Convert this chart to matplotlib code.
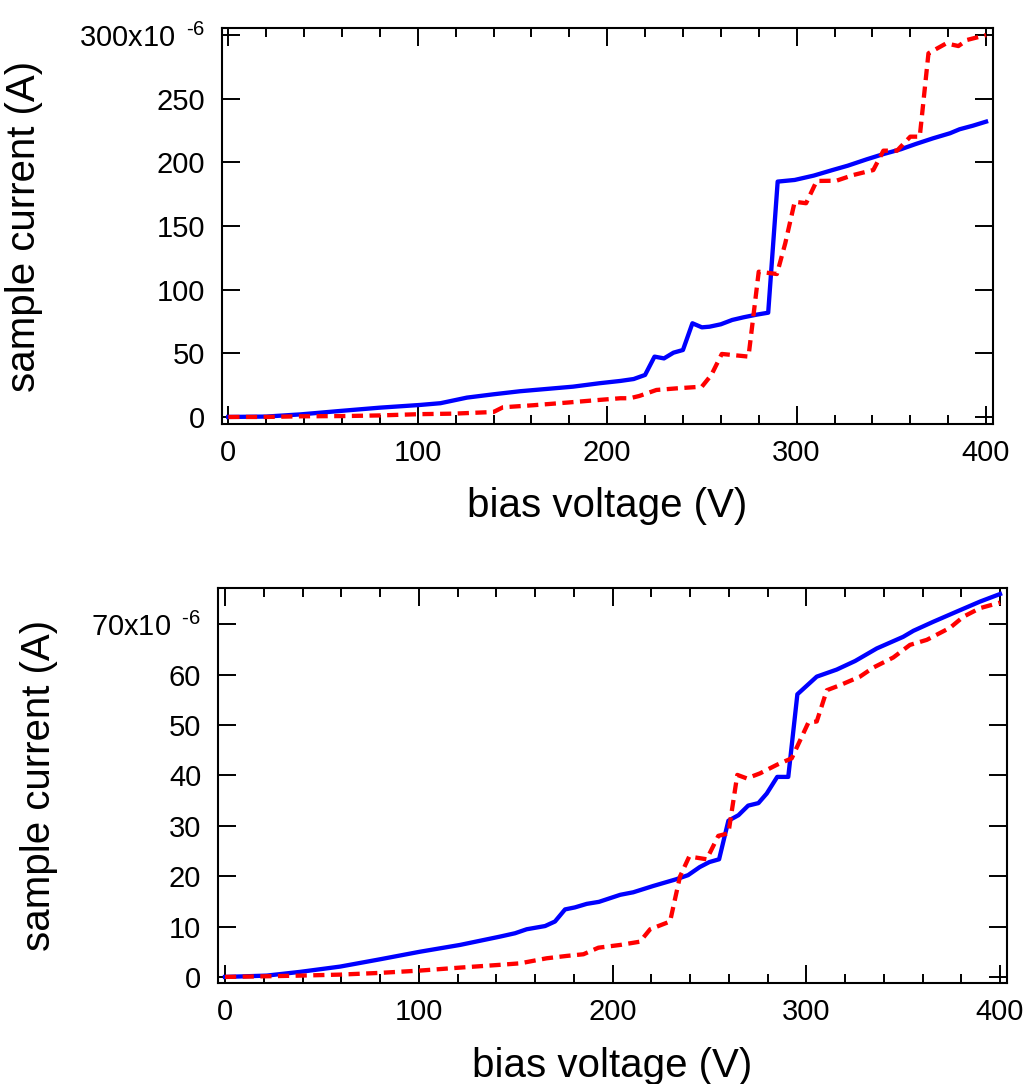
import numpy as np
import matplotlib
matplotlib.use('Agg')
import matplotlib.pyplot as plt
from matplotlib.ticker import MultipleLocator, FuncFormatter

plt.rcParams['font.family'] = ['Liberation Sans', 'DejaVu Sans']
plt.rcParams['mathtext.fontset'] = 'custom'
plt.rcParams['mathtext.rm'] = 'Liberation Sans'
plt.rcParams['mathtext.it'] = 'Liberation Sans'
plt.rcParams['mathtext.default'] = 'regular'

# top panel: current in units of 1e-6 A
top_blue_v = [0, 20, 38, 59, 80, 101, 112, 126, 140, 154, 168, 182, 196, 207, 214, 220, 225,
              230, 235, 240, 245, 250, 254, 260, 266, 272, 279, 285, 290, 299, 309, 319, 327,
              337, 346, 355, 363, 372, 381, 386, 393, 400]
top_blue_i = [0, 0.3, 2, 4.7, 7.3, 9.4, 10.8, 15.2, 17.8, 20.2, 22, 23.8, 26.5, 28.3, 29.8, 33, 47.4,
              46, 50.5, 52.6, 73.6, 70.4, 70.9, 72.8, 76.2, 78.3, 80.4, 81.9, 184.9, 186.2, 189.6,
              194, 197.4, 202.4, 206.6, 210.3, 214.5, 218.9, 222.9, 226, 228.8, 232]

top_red_v = [0, 20, 38, 61, 80, 101, 119, 140, 145, 161, 179, 196, 207, 212, 217, 226, 237, 250,
             255, 260.5, 274.6, 280, 289.6, 294, 299, 305, 310.6, 321, 330, 340.5, 345.8, 353,
             360, 365, 369.6, 379, 385.4, 390, 400]
top_red_i = [0, 0, 0.5, 0.7, 1.2, 2.2, 2.6, 3.9, 7.6, 9.2, 11.3, 13.4, 14.7, 14.7, 16.5, 21.2, 22.5,
             23.8, 33, 49.5, 47.4, 114.1, 112.3, 136.4, 169.1, 167.9, 185.4, 185.6, 190.1, 194,
             209.2, 209.2, 220.2, 220.2, 285.7, 293.5, 291.4, 296.2, 300]

# bottom panel
bot_blue_v = [0, 21.5, 38.7, 59.4, 80, 100.6, 121.3, 141.9, 149.7, 155.7, 165.2, 170.3, 175.5,
              180.6, 186.7, 193, 204, 210.7, 221, 233, 239, 245, 250, 255, 259.8, 265, 270, 275.3,
              279.6, 285, 290.7, 295.4, 305.4, 315.7, 325.2, 336.4, 350, 355.3, 365.6, 377.6,
              389.7, 400]
bot_blue_i = [0, 0.26, 1.0, 2.05, 3.5, 5.0, 6.35, 8.0, 8.67, 9.46, 10.1, 11.0, 13.4, 13.8, 14.5,
              14.9, 16.3, 16.8, 18.05, 19.4, 20.2, 21.8, 22.8, 23.35, 31.0, 32.1, 34.0, 34.5, 36.4,
              39.7, 39.7, 56.1, 59.6, 61.0, 62.7, 65.2, 67.5, 68.7, 70.5, 72.5, 74.5, 76]

bot_red_v = [0, 21.5, 38.7, 59.4, 80, 100.6, 121.3, 141.9, 152.3, 166, 176.4, 185, 192.7, 204,
             214.2, 219.4, 229.7, 234.8, 239.6, 248.6, 254.6, 259.8, 264.4, 269.3, 276.1, 284.8,
             292.5, 301.1, 305.4, 310.6, 317.4, 327.7, 334.6, 344.9, 353.5, 362.2, 374.2, 381.1,
             389.7, 400]
bot_red_i = [0, 0.13, 0.26, 0.46, 0.8, 1.26, 1.85, 2.4, 2.7, 3.7, 4.17, 4.5, 5.8, 6.35, 7.0, 9.46,
             11.0, 19.9, 23.9, 23.35, 28.0, 28.5, 40.1, 39.4, 40.4, 42.1, 43.4, 50.5, 50.7, 56.9,
             57.9, 59.6, 61.4, 63.4, 65.9, 66.9, 69.3, 71.5, 73.2, 74.3]

fig = plt.figure(figsize=(10.26, 10.84), dpi=100)
ax1 = fig.add_axes([0.2164, 0.6089, 0.7515, 0.3653])
ax2 = fig.add_axes([0.2125, 0.0932, 0.769, 0.3644])


def style(ax, ymax, ystep):
    ax.xaxis.set_major_locator(MultipleLocator(100))
    ax.xaxis.set_minor_locator(MultipleLocator(20))
    ax.yaxis.set_major_locator(MultipleLocator(ystep))
    ax.yaxis.set_minor_locator(plt.NullLocator())
    ax.tick_params(which='both', direction='in', top=True, right=True, width=1.4,
                   labelsize=21, color='black')
    ax.tick_params(which='major', length=13)
    ax.tick_params(which='minor', length=6.5)
    ax.tick_params(axis='y', pad=12)
    ax.tick_params(axis='x', pad=10.5)

    def fmt(val, pos):
        if abs(val - ymax) < 1e-9:
            return r'%dx10$^{\ \ \text{-}6}$' % ymax
        return '%d' % val
    ax.yaxis.set_major_formatter(FuncFormatter(fmt))
    for s in ax.spines.values():
        s.set_linewidth(1.5)
        s.set_color('black')
    ax.set_xlabel('bias voltage (V)', fontsize=29)
    ax.set_ylabel('sample current (A)', fontsize=29)


ax1.plot(top_blue_v, top_blue_i, color='#0000ff', lw=3.1, solid_joinstyle='round')
ax1.plot(top_red_v, top_red_i, color='#ff0000', lw=3.1, dashes=(2.6, 1.5))
ax1.set_xlim(-3.3, 403.7)
ax1.set_ylim(-5.5, 305.6)
style(ax1, 300, 50)
ax1.yaxis.set_label_coords(-0.232, 0.5)
ax1.xaxis.set_label_coords(0.5, -0.16)

ax2.plot(bot_blue_v, bot_blue_i, color='#0000ff', lw=3.1, solid_joinstyle='round')
ax2.plot(bot_red_v, bot_red_i, color='#ff0000', lw=3.1, dashes=(2.6, 1.5))
ax2.set_xlim(-3.6, 403.6)
ax2.set_ylim(-1.2, 77.2)
style(ax2, 70, 10)
ax2.yaxis.set_label_coords(-0.203, 0.5)
ax2.xaxis.set_label_coords(0.5, -0.162)

fig.savefig('out.png', dpi=100)
